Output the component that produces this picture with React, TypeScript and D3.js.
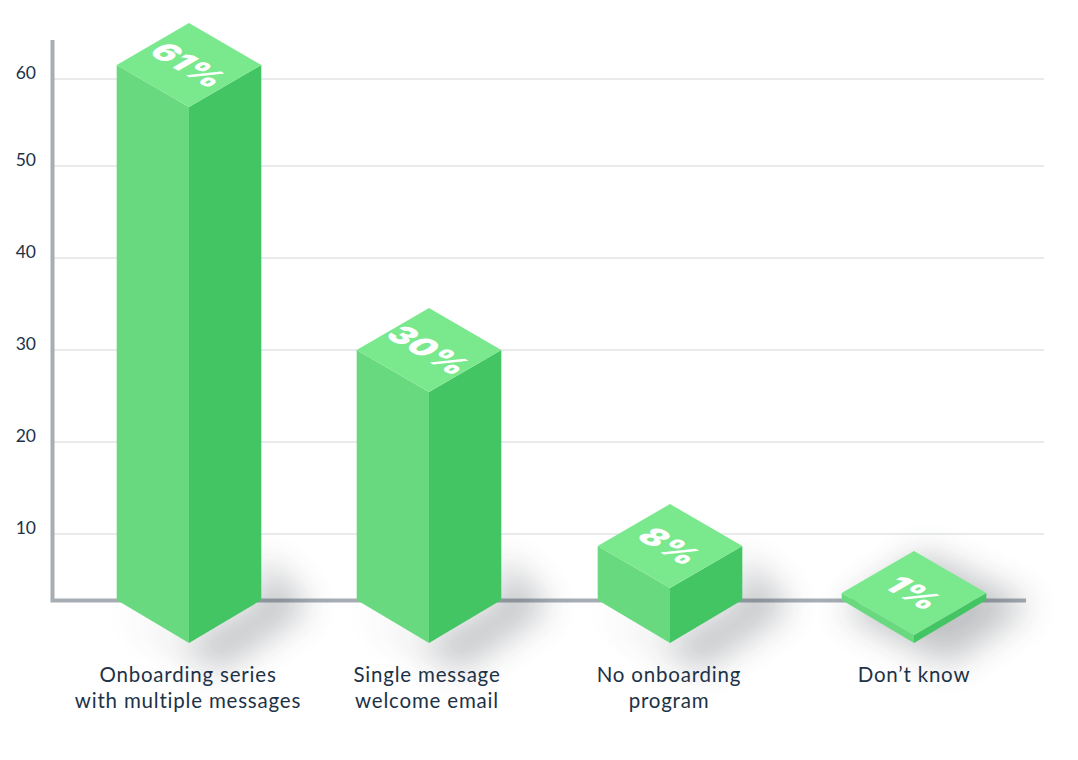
import React from "react";
import * as d3 from "d3";

const categories = ["Onboarding series with multiple messages", "Single message welcome email", "No onboarding program", "Don’t know"];
const categoryLines = [["Onboarding series", "with multiple messages"], ["Single message", "welcome email"], ["No onboarding", "program"], ["Don’t know"]];
const values = [61, 30, 8, 1];
const valueLabels = ["61%", "30%", "8%", "1%"];
const yTicks = [10, 20, 30, 40, 50, 60];

const W = 1078, H = 760;
const baseY = 600;
const halfW = 72.3, halfH = 42;
const FONT = "Lato, 'Open Sans', sans-serif";

const xScale = d3.scaleOrdinal<string, number>().domain(categories).range([189, 429, 670, 914]);
const gridScale = d3.scaleLinear().domain([10, 20, 30, 40, 50, 60]).range([534, 442, 350, 258, 166, 79]);
const barScale = d3.scaleLinear().domain([1, 8, 30, 61]).range([593, 546, 350, 65]);
const pts = (p: number[][]) => d3.line()(p as [number, number][]) + "Z";

export default function App() {
  return (
    <svg width={W} height={H} style={{ position: "absolute", left: 0, top: 0, background: "#fff" }}>
      <defs>
        <filter id="blur" x="-80%" y="-80%" width="260%" height="260%">
          <feGaussianBlur stdDeviation="17" />
        </filter>
      </defs>
      {yTicks.map((t) => (
        <g key={t}>
          <line x1={52} x2={1044} y1={gridScale(t)} y2={gridScale(t)} stroke="#e1e3e5" strokeWidth={1.5} />
          <text x={36} y={gridScale(t) + 1} textAnchor="end" fontFamily={FONT} fontSize={17.5} fill="#1d3247" dy="-0.05em">{t}</text>
        </g>
      ))}
      <path d={`M52.5 40V600.5H1026`} fill="none" stroke="#a6adb4" strokeWidth={4} />
      {categories.map((c, i) => {
        const cx = xScale(c);
        const top = barScale(values[i]);
        const shadow = [
          [cx + halfW, Math.max(top, baseY - 45)],
          [cx + halfW + 48, baseY + 8],
          [cx + 30, baseY + halfH + 28],
          [cx - halfW, baseY + 8],
          [cx, baseY + halfH],
          [cx + halfW, baseY],
        ];
        const shadow2 = values[i] < 5 ? [
          [cx + 10, top - halfH + 2],
          [cx + halfW + 45, top + 12],
          [cx + 35, baseY + halfH + 22],
          [cx - halfW, baseY + 12],
        ] : shadow;
        return <path key={c} d={pts(shadow2)} fill="#30373f" opacity={0.3} filter="url(#blur)" />;
      })}
      {categories.map((c, i) => {
        const cx = xScale(c);
        const top = barScale(values[i]);
        const left = [[cx - halfW, top], [cx, top + halfH], [cx, baseY + halfH + 1], [cx - halfW, baseY]];
        const right = [[cx, top + halfH], [cx + halfW, top], [cx + halfW, baseY], [cx, baseY + halfH + 1]];
        const face = [[cx - halfW, top], [cx, top - halfH], [cx + halfW, top], [cx, top + halfH]];
        return (
          <g key={c}>
            <path d={pts(left)} fill="#68d97f" />
            <path d={pts(right)} fill="#44c564" />
            <path d={pts(face)} fill="#7ae88c" />
            <text
              transform={`matrix(0.864 0.5 -0.864 0.5 ${cx} ${top})`}
              textAnchor="middle"
              y={12}
              fontFamily="Inter, 'Liberation Sans', sans-serif"
              fontWeight={900}
              fontSize={33}
              letterSpacing={0.5}
              fill="#fff"
            >{valueLabels[i]}</text>
            {categoryLines[i].map((line, j) => (
              <text key={line} x={cx - (i === 1 ? 2 : i === 2 ? 1 : 0) - (i === 0 ? 1 : 0)} y={682 + j * 26} textAnchor="middle" fontFamily={FONT} fontSize={20.5} letterSpacing={0.8} fill="#1d3247">{line}</text>
            ))}
          </g>
        );
      })}
    </svg>
  );
}
